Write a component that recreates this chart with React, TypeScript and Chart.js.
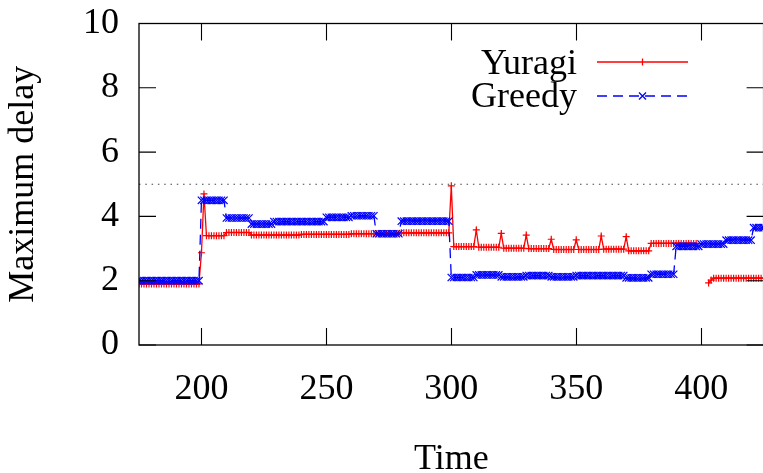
import React, { useEffect, useRef } from 'react';
import { Chart, registerables } from 'chart.js';

Chart.register(...registerables);

const FONT = 'Liberation Serif';
const T_START = 175;
const T_END = 425;
const X_TICKS = [200, 250, 300, 350, 400];
const Y_TICKS = [0, 2, 4, 6, 8, 10];
const THRESHOLD = 5;
const SERIES_NAMES = ['Yuragi', 'Greedy'];
const X_LABEL = 'Time';
const Y_LABEL = 'Maximum delay';

// values for t = 175, 176, ..., 425 (one per time unit)
const YURAGI: (number | null)[] = [
  1.9, 1.9, 1.9, 1.9, 1.9, 1.9, 1.9, 1.9, 1.9, 1.9,
  1.9, 1.9, 1.9, 1.9, 1.9, 1.9, 1.9, 1.9, 1.9, 1.9,
  1.9, 1.9, 1.9, 1.9, 1.9, 2.87, 4.7, 3.4, 3.4, 3.4,
  3.4, 3.4, 3.4, 3.4, 3.4, 3.5, 3.5, 3.5, 3.5, 3.5,
  3.5, 3.5, 3.5, 3.5, 3.5, 3.42, 3.42, 3.42, 3.42, 3.42,
  3.42, 3.42, 3.42, 3.42, 3.42, 3.42, 3.42, 3.42, 3.42, 3.42,
  3.42, 3.42, 3.42, 3.42, 3.42, 3.44, 3.44, 3.44, 3.44, 3.44,
  3.44, 3.44, 3.44, 3.44, 3.44, 3.44, 3.44, 3.44, 3.44, 3.44,
  3.44, 3.44, 3.44, 3.44, 3.44, 3.46, 3.46, 3.46, 3.46, 3.46,
  3.46, 3.46, 3.46, 3.46, 3.46, 3.46, 3.46, 3.46, 3.46, 3.46,
  3.46, 3.46, 3.46, 3.46, 3.46, 3.49, 3.49, 3.49, 3.49, 3.49,
  3.49, 3.49, 3.49, 3.49, 3.49, 3.49, 3.49, 3.49, 3.49, 3.49,
  3.49, 3.49, 3.49, 3.49, 3.49, 4.95, 3.06, 3.06, 3.06, 3.06,
  3.06, 3.06, 3.06, 3.06, 3.06, 3.58, 3.04, 3.04, 3.04, 3.04,
  3.04, 3.04, 3.04, 3.04, 3.04, 3.47, 3.01, 3.01, 3.01, 3.01,
  3.01, 3.01, 3.01, 3.01, 3.01, 3.42, 3.0, 3.0, 3.0, 3.0,
  3.0, 3.0, 3.0, 3.0, 3.0, 3.29, 2.97, 2.97, 2.97, 2.97,
  2.97, 2.97, 2.97, 2.97, 2.97, 3.27, 2.97, 2.97, 2.97, 2.97,
  2.97, 2.97, 2.97, 2.97, 2.97, 3.39, 2.98, 2.98, 2.98, 2.98,
  2.98, 2.98, 2.98, 2.98, 2.98, 3.37, 2.93, 2.93, 2.93, 2.93,
  2.93, 2.93, 2.93, 2.93, 2.93, 3.16, 3.16, 3.16, 3.16, 3.16,
  3.16, 3.16, 3.16, 3.16, 3.16, 3.16, 3.16, 3.16, 3.16, 3.16,
  3.16, 3.16, 3.16, 3.16, null, null, null, null, 1.93, 2.02,
  2.08, 2.08, 2.08, 2.08, 2.08, 2.08, 2.08, 2.08, 2.08, 2.08,
  2.08, 2.08, 2.08, 2.08, 2.08, 2.08, 2.08, 2.08, 2.08, 2.08,
  2.08,
];

const GREEDY: (number | null)[] = [
  2.0, 2.0, 2.0, 2.0, 2.0, 2.0, 2.0, 2.0, 2.0, 2.0,
  2.0, 2.0, 2.0, 2.0, 2.0, 2.0, 2.0, 2.0, 2.0, 2.0,
  2.0, 2.0, 2.0, 2.0, 2.0, 4.5, 4.5, 4.5, 4.5, 4.5,
  4.5, 4.5, 4.5, 4.5, 4.5, 3.95, 3.95, 3.95, 3.95, 3.95,
  3.95, 3.95, 3.95, 3.95, 3.95, 3.76, 3.76, 3.76, 3.76, 3.76,
  3.76, 3.76, 3.76, 3.76, 3.84, 3.84, 3.84, 3.84, 3.84, 3.84,
  3.84, 3.84, 3.84, 3.84, 3.84, 3.84, 3.84, 3.84, 3.84, 3.84,
  3.84, 3.84, 3.84, 3.84, 3.84, 3.97, 3.97, 3.97, 3.97, 3.97,
  3.97, 3.97, 3.97, 3.97, 3.97, 4.02, 4.02, 4.02, 4.02, 4.02,
  4.02, 4.02, 4.02, 4.02, 4.02, 3.46, 3.46, 3.46, 3.46, 3.46,
  3.46, 3.46, 3.46, 3.46, 3.46, 3.85, 3.85, 3.85, 3.85, 3.85,
  3.85, 3.85, 3.85, 3.85, 3.85, 3.85, 3.85, 3.85, 3.85, 3.85,
  3.85, 3.85, 3.85, 3.85, 3.85, 2.1, 2.1, 2.1, 2.1, 2.1,
  2.1, 2.1, 2.1, 2.1, 2.1, 2.18, 2.18, 2.18, 2.18, 2.18,
  2.18, 2.18, 2.18, 2.18, 2.18, 2.12, 2.12, 2.12, 2.12, 2.12,
  2.12, 2.12, 2.12, 2.12, 2.12, 2.16, 2.16, 2.16, 2.16, 2.16,
  2.16, 2.16, 2.16, 2.16, 2.16, 2.12, 2.12, 2.12, 2.12, 2.12,
  2.12, 2.12, 2.12, 2.12, 2.12, 2.16, 2.16, 2.16, 2.16, 2.16,
  2.16, 2.16, 2.16, 2.16, 2.16, 2.16, 2.16, 2.16, 2.16, 2.16,
  2.16, 2.16, 2.16, 2.16, 2.16, 2.09, 2.09, 2.09, 2.09, 2.09,
  2.09, 2.09, 2.09, 2.09, 2.09, 2.2, 2.2, 2.2, 2.2, 2.2,
  2.2, 2.2, 2.2, 2.2, 2.2, 3.07, 3.07, 3.07, 3.07, 3.07,
  3.07, 3.07, 3.07, 3.07, 3.07, 3.14, 3.14, 3.14, 3.14, 3.14,
  3.14, 3.14, 3.14, 3.14, 3.14, 3.26, 3.26, 3.26, 3.26, 3.26,
  3.26, 3.26, 3.26, 3.26, 3.26, 3.26, 3.65, 3.65, 3.65, 3.65,
  3.65,
];

const RED = '#ff0000';
const BLUE = '#0000ff';
const TICK_LEN = 17;

const toPoints = (vals: (number | null)[]) =>
  vals.map((v, i) => ({ x: T_START + i, y: v }));

const framePlugin = {
  id: 'gnuFrame',
  beforeDatasetsDraw(chart: any) {
    const { ctx, chartArea: a, scales } = chart;
    const yy = scales.y.getPixelForValue(THRESHOLD);
    ctx.save();
    ctx.strokeStyle = '#444';
    ctx.lineWidth = 1.2;
    ctx.setLineDash([1.5, 4.8]);
    ctx.beginPath();
    ctx.moveTo(a.left, yy);
    ctx.lineTo(a.right, yy);
    ctx.stroke();
    ctx.restore();
  },
  afterDatasetsDraw(chart: any) {
    const { ctx, chartArea: a, scales } = chart;
    ctx.save();
    ctx.strokeStyle = '#000';
    ctx.lineWidth = 1.3;
    ctx.setLineDash([]);
    ctx.strokeRect(a.left, a.top, a.right - a.left, a.bottom - a.top);
    ctx.lineWidth = 1.1;
    ctx.beginPath();
    X_TICKS.forEach((v) => {
      const px = Math.round(scales.x.getPixelForValue(v)) + 0.5;
      ctx.moveTo(px, a.bottom);
      ctx.lineTo(px, a.bottom - TICK_LEN);
      ctx.moveTo(px, a.top);
      ctx.lineTo(px, a.top + TICK_LEN);
    });
    Y_TICKS.forEach((v) => {
      const py = scales.y.getPixelForValue(v);
      ctx.moveTo(a.left, py);
      ctx.lineTo(a.left + TICK_LEN, py);
      ctx.moveTo(a.right, py);
      ctx.lineTo(a.right - TICK_LEN, py);
    });
    ctx.stroke();
    ctx.restore();
  },
  afterDraw(chart: any) {
    const { ctx } = chart;
    ctx.save();
    ctx.font = `36px "${FONT}"`;
    ctx.fillStyle = '#000';
    ctx.textAlign = 'right';
    ctx.textBaseline = 'alphabetic';
    const textRight = 577;
    const x0 = 597;
    const x1 = 688;
    const xm = (x0 + x1) / 2;
    // Yuragi
    ctx.fillText(SERIES_NAMES[0], textRight, 74);
    ctx.strokeStyle = RED;
    ctx.lineWidth = 1.3;
    ctx.beginPath();
    ctx.moveTo(x0, 62);
    ctx.lineTo(x1, 62);
    ctx.moveTo(xm, 62 - 3.5);
    ctx.lineTo(xm, 62 + 3.5);
    ctx.stroke();
    // Greedy
    ctx.fillText(SERIES_NAMES[1], textRight, 107);
    ctx.strokeStyle = BLUE;
    ctx.setLineDash([10, 6]);
    ctx.beginPath();
    ctx.moveTo(x0, 96);
    ctx.lineTo(x1, 96);
    ctx.stroke();
    ctx.setLineDash([]);
    ctx.beginPath();
    const d = 3.5;
    ctx.moveTo(xm - d, 96 - d);
    ctx.lineTo(xm + d, 96 + d);
    ctx.moveTo(xm - d, 96 + d);
    ctx.lineTo(xm + d, 96 - d);
    ctx.stroke();
    ctx.restore();
  },
};

export default function App() {
  const ref = useRef<HTMLCanvasElement | null>(null);

  useEffect(() => {
    if (!ref.current) return;
    const chart = new Chart(ref.current, {
      type: 'line',
      data: {
        datasets: [
          {
            label: SERIES_NAMES[0],
            data: toPoints(YURAGI) as any,
            borderColor: RED,
            backgroundColor: RED,
            borderWidth: 1.3,
            pointStyle: 'cross',
            pointRadius: 3.5,
            pointBorderColor: RED,
            pointBorderWidth: 1.2,
            tension: 0,
            spanGaps: false,
            fill: false,
            order: 1,
          },
          {
            label: SERIES_NAMES[1],
            data: toPoints(GREEDY) as any,
            borderColor: BLUE,
            backgroundColor: BLUE,
            borderWidth: 1.3,
            borderDash: [10, 6],
            pointStyle: 'crossRot',
            pointRadius: 5.2,
            pointBorderColor: BLUE,
            pointBorderWidth: 1.2,
            tension: 0,
            spanGaps: false,
            fill: false,
            order: 0,
          },
        ],
      },
      options: {
        animation: false,
        responsive: false,
        devicePixelRatio: 1,
        layout: { padding: { top: 23.5, right: 1.5, left: 0, bottom: 0 } },
        plugins: {
          legend: { display: false },
          tooltip: { enabled: false },
        },
        events: [],
        scales: {
          x: {
            type: 'linear',
            min: T_START,
            max: T_END,
            afterBuildTicks: (s: any) => {
              s.ticks = X_TICKS.map((v) => ({ value: v }));
            },
            afterFit: (s: any) => {
              s.height = 128;
            },
            grid: { display: false, drawTicks: false },
            border: { display: false },
            ticks: {
              font: { family: FONT, size: 36 },
              color: '#000',
              padding: 23,
              maxRotation: 0,
              autoSkip: false,
            },
            title: {
              display: true,
              text: X_LABEL,
              color: '#000',
              font: { family: FONT, size: 36, lineHeight: 1 },
              padding: { top: 0, bottom: -5 },
            },
          },
          y: {
            type: 'linear',
            min: 0,
            max: 10,
            afterBuildTicks: (s: any) => {
              s.ticks = Y_TICKS.map((v) => ({ value: v }));
            },
            afterFit: (s: any) => {
              s.width = 139;
            },
            grid: { display: false, drawTicks: false },
            border: { display: false },
            ticks: {
              font: { family: FONT, size: 36, lineHeight: 0.1 },
              color: '#000',
              padding: 20,
            },
            title: {
              display: true,
              text: Y_LABEL,
              color: '#000',
              font: { family: FONT, size: 36, lineHeight: 1.2 },
              padding: { top: 2, bottom: 0 },
            },
          },
        },
      },
      plugins: [framePlugin],
    } as any);
    return () => chart.destroy();
  }, []);

  return (
    <div
      style={{
        position: 'fixed',
        left: 0,
        top: 0,
        width: 763,
        height: 473,
        overflow: 'hidden',
        background: '#fff',
      }}
    >
      <canvas
        ref={ref}
        width={770}
        height={473}
        style={{ display: 'block', width: 770, height: 473 }}
      />
    </div>
  );
}
